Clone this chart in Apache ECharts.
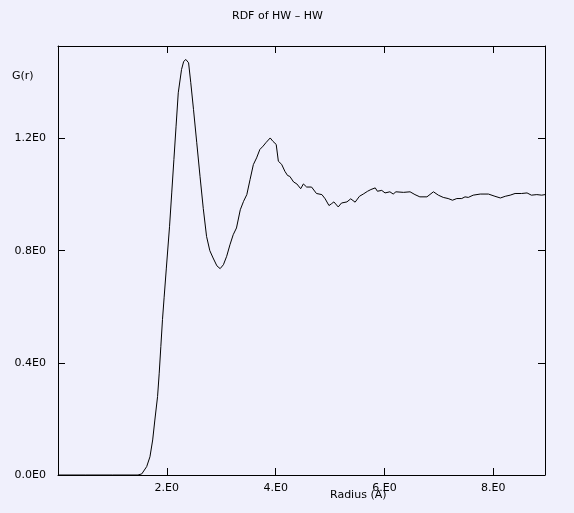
<!DOCTYPE html>
<html>
<head>
<meta charset="utf-8">
<script src="https://cdn.jsdelivr.net/npm/echarts@6/dist/echarts.min.js"></script>
<style>
html,body{margin:0;padding:0;background:#f0f0fc;}
#c{width:574px;height:513px;}
</style>
</head>
<body>
<div id="c"></div>
<script>
var chartTitle = 'RDF of HW – HW';
var xName = 'Radius (A)';
var yName = 'G(r)';
var radius = [0, 0.5, 1.0, 1.47, 1.54, 1.63, 1.69, 1.74, 1.78, 1.83, 1.86, 1.89, 1.92, 1.95, 1.99,
  2.05, 2.09, 2.13, 2.17, 2.21, 2.27, 2.31, 2.35, 2.40, 2.44, 2.49, 2.55, 2.61, 2.67, 2.73, 2.79,
  2.85, 2.92, 2.98, 3.04, 3.10, 3.16, 3.22, 3.28, 3.35, 3.41, 3.47, 3.53, 3.59, 3.65, 3.71, 3.77,
  3.82, 3.90, 3.95, 4.01, 4.05, 4.11, 4.17, 4.22, 4.26, 4.33, 4.39, 4.46, 4.51, 4.57, 4.66, 4.75,
  4.85, 4.91, 4.98, 5.03, 5.07, 5.15, 5.21, 5.31, 5.38, 5.46, 5.54, 5.61, 5.69, 5.75, 5.83, 5.87,
  5.95, 6.01, 6.10, 6.16, 6.21, 6.35, 6.47, 6.56, 6.65, 6.78, 6.90, 6.99, 7.08, 7.17, 7.25, 7.33,
  7.42, 7.48, 7.54, 7.63, 7.76, 7.91, 8.03, 8.13, 8.22, 8.31, 8.40, 8.52, 8.62, 8.70, 8.80, 8.89, 8.95];
var gr = [0, 0, 0, 0, 0.004, 0.03, 0.065, 0.125, 0.196, 0.28, 0.363, 0.458, 0.554, 0.632, 0.735,
  0.887, 1.006, 1.125, 1.244, 1.363, 1.446, 1.475, 1.482, 1.47, 1.399, 1.304, 1.185, 1.065, 0.95, 0.851, 0.80,
  0.774, 0.746, 0.736, 0.75, 0.78, 0.821, 0.857, 0.881, 0.946, 0.976, 1.0, 1.054, 1.107, 1.131, 1.161, 1.173,
  1.185, 1.202, 1.19, 1.179, 1.119, 1.108, 1.083, 1.068, 1.065, 1.045, 1.038, 1.021, 1.038, 1.027, 1.027, 1.004,
  1.0, 0.985, 0.961, 0.968, 0.974, 0.956, 0.97, 0.974, 0.985, 0.973, 0.994, 1.002, 1.012, 1.018, 1.024, 1.012,
  1.015, 1.006, 1.01, 1.002, 1.01, 1.008, 1.01, 1.0, 0.992, 0.992, 1.01, 0.998, 0.99, 0.986, 0.98, 0.986,
  0.986, 0.992, 0.99, 0.998, 1.002, 1.002, 0.994, 0.988, 0.994, 0.998, 1.004, 1.004, 1.006, 0.998, 1.0, 0.998, 1.0];
var xMin = 0, xMax = 8.95, xStep = 2;
var yMin = 0, yMax = 1.53, yStep = 0.4;

var data = radius.map(function (r, i) { return [r, gr[i]]; });
var font = 'DejaVu Sans';
function xFmt(v) {
  if (v === 0) return '';
  if (Math.abs(v / xStep - Math.round(v / xStep)) > 1e-6) return '';
  return Math.round(v) + '.E0';
}
function yFmt(v) {
  if (Math.abs(v / yStep - Math.round(v / yStep)) > 1e-6) return '';
  return v.toFixed(1) + 'E0';
}
var axisLine = { show: true, onZero: false, lineStyle: { color: '#000', width: 1 } };
var tick = { show: true, inside: true, length: 7, lineStyle: { color: '#000', width: 1 } };
var chart = echarts.init(document.getElementById('c'));
chart.setOption({
  backgroundColor: '#f0f0fc',
  animation: false,
  title: [
    { text: chartTitle, left: 232, top: 11, padding: 0,
      textStyle: { fontFamily: font, fontSize: 11, fontWeight: 'normal', color: '#000' } },
    { text: yName, left: 12, top: 71, padding: 0,
      textStyle: { fontFamily: font, fontSize: 11, fontWeight: 'normal', color: '#000' } },
    { text: xName, left: 330, top: 490, padding: 0,
      textStyle: { fontFamily: font, fontSize: 11, fontWeight: 'normal', color: '#000' } }
  ],
  grid: { left: 58, right: 29, top: 46, bottom: 38, containLabel: false },
  xAxis: [
    { type: 'value', min: xMin, max: xMax, interval: xStep, position: 'bottom',
      axisLine: axisLine, axisTick: tick, splitLine: { show: false },
      axisLabel: { formatter: xFmt, margin: 8, fontFamily: font, fontSize: 11, color: '#000', showMaxLabel: false } },
    { type: 'value', min: xMin, max: xMax, interval: xStep, position: 'top',
      axisLine: axisLine, axisTick: tick, splitLine: { show: false }, axisLabel: { show: false } }
  ],
  yAxis: [
    { type: 'value', min: yMin, max: yMax, interval: yStep, position: 'left',
      axisLine: axisLine, axisTick: tick, splitLine: { show: false },
      axisLabel: { formatter: yFmt, margin: 12, fontFamily: font, fontSize: 11, color: '#000', showMaxLabel: false } },
    { type: 'value', min: yMin, max: yMax, interval: yStep, position: 'right',
      axisLine: axisLine, axisTick: tick, splitLine: { show: false }, axisLabel: { show: false } }
  ],
  series: [
    { type: 'line', data: data, showSymbol: false, symbol: 'none', smooth: false,
      lineStyle: { color: '#000', width: 1 }, clip: true }
  ]
});
</script>
</body>
</html>
